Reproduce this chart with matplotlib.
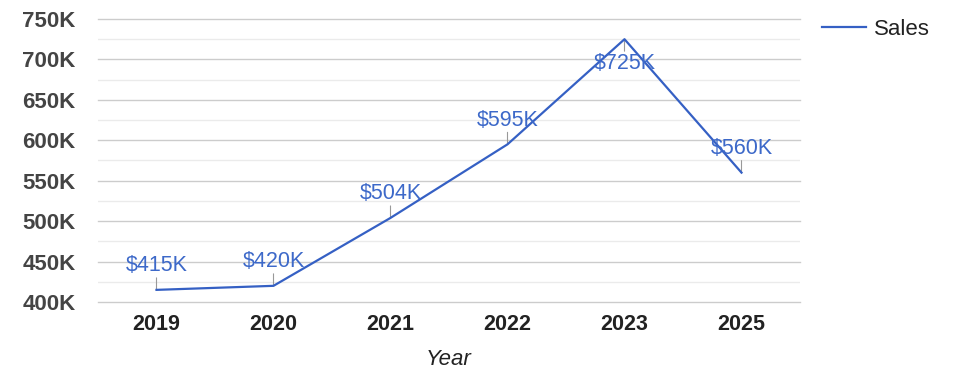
import matplotlib.pyplot as plt
from matplotlib.ticker import MultipleLocator, FuncFormatter

# 데이터
years = ["2019", "2020", "2021", "2022", "2023", "2025"]
sales = [415, 420, 504, 595, 725, 560]  # 단위: K
labels = ["$415K", "$420K", "$504K", "$595K", "$725K", "$560K"]

plt.rcParams["font.family"] = ["Liberation Sans", "DejaVu Sans"]

fig = plt.figure(figsize=(9.75, 3.78), dpi=100)
ax = fig.add_axes([98 / 975, 1 - 302 / 378, 702 / 975, 283 / 378])

x = list(range(len(years)))
line_color = "#3560C4"
ax.plot(x, sales, color=line_color, lw=1.6, label="Sales", zorder=3)

ax.set_xlim(-0.5, len(years) - 0.5)
ax.set_ylim(400, 750)

# 눈금선
ax.yaxis.set_major_locator(MultipleLocator(50))
ax.yaxis.set_minor_locator(MultipleLocator(25))
ax.grid(axis="y", which="major", color="#cccccc", lw=1, zorder=0)
ax.grid(axis="y", which="minor", color="#ebebeb", lw=1, zorder=0)
ax.set_axisbelow(True)
for s in ax.spines.values():
    s.set_visible(False)

ax.yaxis.set_major_formatter(FuncFormatter(lambda v, p: f"{int(v)}K"))
ax.tick_params(axis="y", which="both", length=0, pad=16, labelsize=16, labelcolor="#444444")
ax.tick_params(axis="x", length=0, pad=9, labelsize=15.5, labelcolor="#222222")
ax.set_xticks(x)
ax.set_xticklabels(years)
for t in ax.get_yticklabels() + ax.get_xticklabels():
    t.set_fontweight("bold")
for g in ax.yaxis.get_gridlines():
    g.set_clip_on(False)  # 맨 아래/위 선이 잘리지 않게

ax.set_xlabel("Year", fontsize=16, style="italic", color="#222222", labelpad=10)

# 값 라벨 (위쪽, 천장 근처면 아래쪽)
for i, v in enumerate(sales):
    sign = -1 if v > 700 else 1
    ax.annotate("", xy=(i, v), xytext=(0, 12 * sign), textcoords="offset pixels",
                arrowprops=dict(arrowstyle="-", color="#999999", lw=0.8,
                                shrinkA=0, shrinkB=0), zorder=2)
    ax.annotate(labels[i], xy=(i, v), xytext=(0, 24 * sign), textcoords="offset pixels",
                ha="center", va="center", fontsize=15.5, color="#3D69C9", zorder=4)

ax.legend(loc="upper left", bbox_to_anchor=(822 / 975, 1 - 19 / 378),
          bbox_transform=fig.transFigure, frameon=False, fontsize=16,
          handlelength=2.0, handletextpad=0.35, borderpad=0, borderaxespad=0,
          labelcolor="#222222")

fig.savefig("out.png", dpi=100)
